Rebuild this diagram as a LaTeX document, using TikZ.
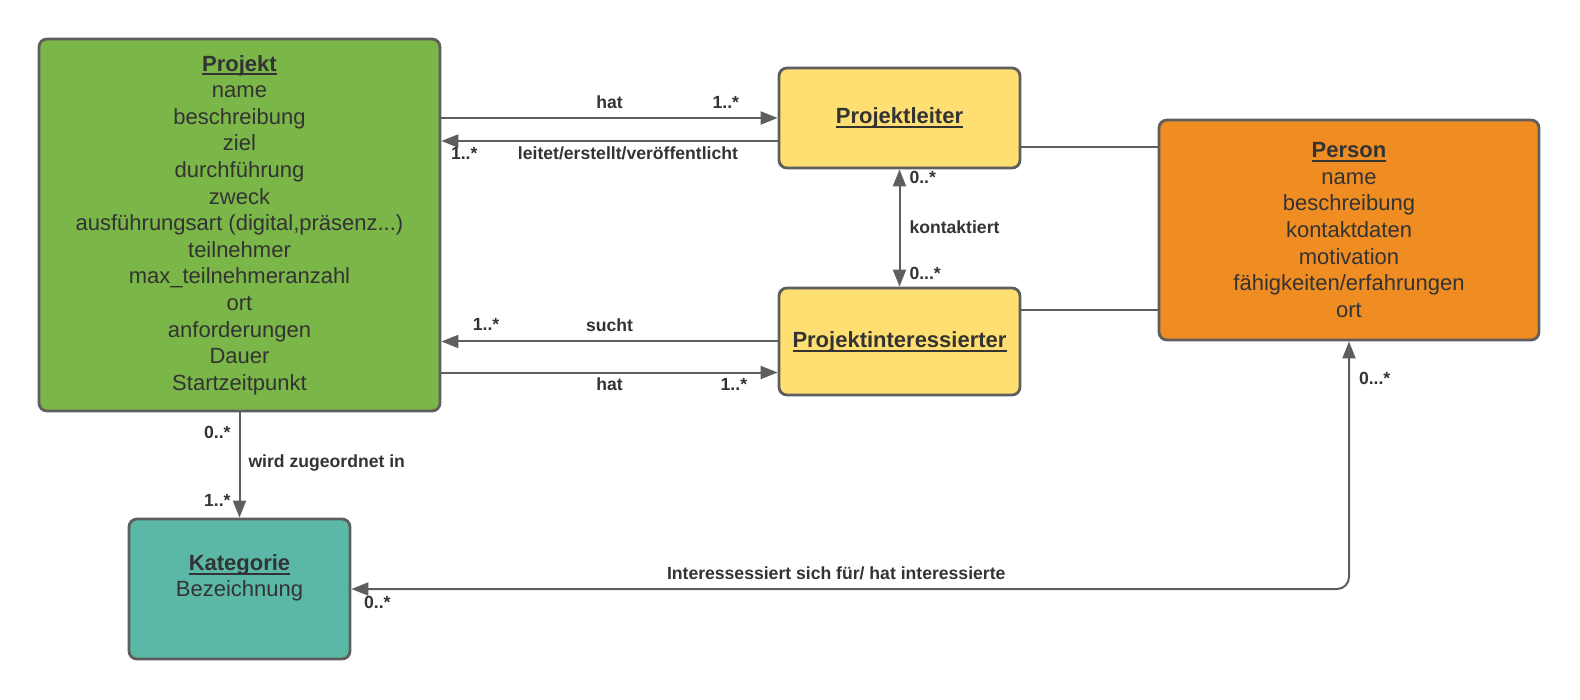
\documentclass[tikz,border=0pt]{standalone}
\usepackage{fontspec}
\setmainfont{Liberation Sans}
\usetikzlibrary{arrows.meta, positioning, calc}

\definecolor{projektgreen}{HTML}{7AB648}
\definecolor{rollenyellow}{HTML}{FFDF71}
\definecolor{personorange}{HTML}{EF8D22}
\definecolor{kategorieteal}{HTML}{5CB8A6}
\definecolor{randgrau}{HTML}{5E5E5E}
\definecolor{textgrau}{HTML}{333333}

\newcommand{\titel}[1]{{\setbox0\hbox{\bfseries #1}\rlap{\rule[-2.2pt]{\wd0}{1pt}}\box0}}

\begin{document}
\begin{tikzpicture}[
    x=0.5pt, y=-0.5pt,
    >={Triangle[length=8.5pt,width=6.5pt]},
    every node/.style={text=textgrau},
    klasse/.style={rectangle, rounded corners=4pt, draw=randgrau, line width=1.4pt,
                   align=center, font=\fontsize{11}{13.3}\selectfont},
    projektbox/.style={klasse, fill=projektgreen, minimum width=200.5pt, minimum height=186pt},
    rolle/.style={klasse, fill=rollenyellow, minimum width=120.5pt},
    personbox/.style={klasse, fill=personorange, minimum width=190pt, minimum height=110pt},
    kategoriebox/.style={klasse, fill=kategorieteal, minimum width=110.5pt, minimum height=70pt},
    arrow/.style={->, line width=1pt, draw=randgrau},
    dualarrow/.style={<->, line width=1pt, draw=randgrau},
    link/.style={line width=1pt, draw=randgrau},
    lbl/.style={font=\fontsize{8.8}{10}\selectfont\bfseries, inner sep=0pt}
]

\useasboundingbox (0,0) rectangle (1580,700);

% Klassen
\node[projektbox] (projekt) at (239.5,225) {\titel{Projekt}\\name\\beschreibung\\ziel\\durchführung\\zweck\\ausführungsart (digital,präsenz...)\\teilnehmer\\max\_teilnehmeranzahl\\ort\\anforderungen\\Dauer\\Startzeitpunkt};
\node[rolle, minimum height=50pt] (leiter) at (899.5,118) {\titel{Projektleiter}};
\node[rolle, minimum height=53.5pt, below=58.6pt of leiter] (interessent) {\titel{Projektinteressierter}};
\node[personbox] (person) at (1349,230) {\titel{Person}\\name\\beschreibung\\kontaktdaten\\motivation\\fähigkeiten/erfahrungen\\ort};
\node[kategoriebox, below=52.6pt of projekt] (kategorie) {\titel{Kategorie}\\Bezeichnung\\~};

% Projekt <-> Projektleiter
\draw[arrow] (leiter.west -| projekt.east) -- node[lbl, pos=0.5, yshift=8pt]{hat} node[lbl, pos=0.846, yshift=8pt]{1..*} (leiter.west);
\draw[arrow] ($(leiter.west)+(0,23)$) -- node[lbl, pos=0.445, yshift=-6pt]{leitet/erstellt/veröffentlicht} node[lbl, pos=0.932, yshift=-6pt]{1..*} ($(leiter.west -| projekt.east)+(0,23)$);

% Projekt <-> Projektinteressierter
\draw[arrow] (interessent.west) -- node[lbl, pos=0.5, yshift=8.3pt]{sucht} node[lbl, pos=0.867, yshift=8.3pt]{1..*} (interessent.west -| projekt.east);
\draw[arrow] ($(interessent.west -| projekt.east)+(0,31)$) -- node[lbl, pos=0.5, yshift=-6pt]{hat} node[lbl, pos=0.87, yshift=-6pt]{1..*} ($(interessent.west)+(0,31)$);

% Projektleiter <-> Projektinteressierter
\draw[dualarrow] (leiter) -- node[lbl, pos=0.07, anchor=west, xshift=4.5pt]{0..*} node[lbl, pos=0.49, anchor=west, xshift=4.5pt]{kontaktiert} node[lbl, pos=0.89, anchor=west, xshift=4.5pt]{0...*} (interessent);

% Rollen -- Person
\draw[link] ($(leiter.east)+(0,29)$) -- ($(leiter.east -| person.west)+(0,29)$);
\draw[link] ($(interessent.east)+(0,-31)$) -- ($(interessent.east -| person.west)+(0,-31)$);

% Projekt -> Kategorie
\draw[arrow] (projekt) -- node[lbl, pos=0.19, anchor=east, xshift=-4pt]{0..*} node[lbl, pos=0.48, anchor=west, xshift=4pt]{wird zugeordnet in} node[lbl, pos=0.84, anchor=east, xshift=-4pt]{1..*} (kategorie);

% Person <-> Kategorie
\draw[dualarrow, rounded corners=6pt] (person) |- node[lbl, pos=0.074, anchor=west, xshift=4.5pt]{0...*} node[lbl, pos=0.757, yshift=8pt]{Interessessiert sich für/ hat interessierte} node[lbl, pos=0.987, yshift=-6.5pt]{0..*} (kategorie);

\end{tikzpicture}
\end{document}
